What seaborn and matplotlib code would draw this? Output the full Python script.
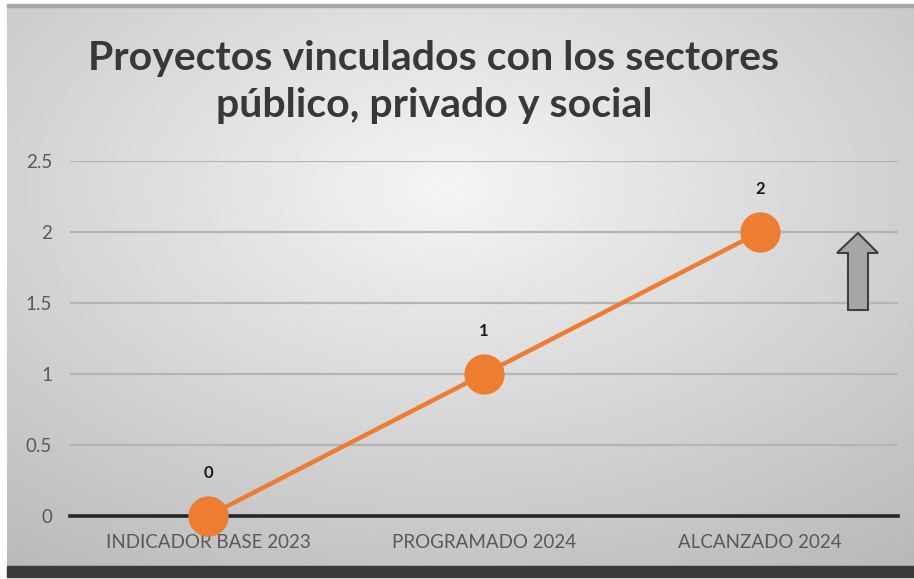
import numpy as np
import pandas as pd
import matplotlib
matplotlib.use("Agg")
import matplotlib.pyplot as plt
import seaborn as sns
from matplotlib.patches import Rectangle, Polygon

categories = ["INDICADOR BASE 2023", "PROGRAMADO 2024", "ALCANZADO 2024"]
values = [0, 1, 2]
y_ticks = [0, 0.5, 1, 1.5, 2, 2.5]
y_tick_labels = ["0", "0.5", "1", "1.5", "2", "2.5"]
title_text = "Proyectos vinculados con los sectores\npúblico, privado y social"

ORANGE = "#ED7D31"
W, H = 914, 579


def px(x, y):
    """Pixel position (from top-left) to figure fraction."""
    return x / W, 1 - y / H


def draw_background(fig):
    # radial gray gradient of the chart frame
    bg = fig.add_axes([7 / W, 13 / H, 1 - 7 / W, (566 - 6) / H], zorder=0)
    yy, xx = np.mgrid[0:280, 0:454]
    r = np.sqrt(((xx - 220) / 454) ** 2 + ((yy - 90) / 280) ** 2)
    shade = 0.96 - 0.28 * r
    bg.imshow(shade, cmap="gray", vmin=0, vmax=1, aspect="auto",
              interpolation="bicubic")
    bg.set_axis_off()
    # bottom shadow and top rule
    fig.patches.append(Rectangle(px(7, 577), 1 - 7 / W, 11 / H,
                                 transform=fig.transFigure, color="#3a3a3a",
                                 zorder=1))
    fig.patches.append(Rectangle(px(7, 7), 1 - 7 / W, 3 / H,
                                 transform=fig.transFigure, color="#a8a8a8",
                                 zorder=1))


def draw_chart(fig):
    ax = fig.add_axes([70 / W, 63 / H, 828 / W, (516 - 161) / H], zorder=2)
    ax.patch.set_alpha(0)
    df = pd.DataFrame({"categoria": categories, "valor": values})
    sns.lineplot(data=df, x="categoria", y="valor", sort=False, ax=ax,
                 color=ORANGE, linewidth=3.2, marker="o", markersize=29,
                 markeredgewidth=0, clip_on=False, zorder=5)
    ax.set_xlim(-0.5, 2.5)
    ax.set_ylim(0, 2.5)
    ax.set_yticks(y_ticks)
    ax.set_yticklabels(y_tick_labels)
    ax.grid(axis="y", color="#b4b4b4", linewidth=1.6)
    ax.grid(axis="x", visible=False)
    for side in ["top", "right", "left"]:
        ax.spines[side].set_visible(False)
    ax.spines["bottom"].set_color("#262626")
    ax.spines["bottom"].set_linewidth(2.6)
    ax.tick_params(axis="both", length=0, labelsize=13.5, colors="#595959")
    ax.tick_params(axis="y", pad=13)
    ax.tick_params(axis="x", pad=13)
    ax.set_xlabel("")
    ax.set_ylabel("")
    for i, v in enumerate(values):
        ax.annotate(str(v), (i, v), xytext=(0, 31), textcoords="offset points",
                    ha="center", va="center", fontsize=12,
                    fontweight="bold", color="#1a1a1a")
    return ax


def draw_decorations(fig):
    fig.text(434 / W, px(0, 82)[1], title_text, ha="center", va="center",
             fontsize=29.5, fontweight="bold", color="#383838",
             linespacing=1.36)
    arrow = [(848, 310), (868, 310), (868, 253), (878, 253), (858, 233),
             (837, 253), (848, 253)]
    fig.patches.append(Polygon([px(x, y) for x, y in arrow],
                               transform=fig.transFigure, closed=True,
                               facecolor="#a6a6a6", edgecolor="#404040",
                               linewidth=1.5, zorder=3))


def main():
    sns.set_theme(style="white")
    plt.rcParams["font.family"] = ["Lato", "DejaVu Sans"]
    fig = plt.figure(figsize=(W / 100, H / 100), dpi=100)
    fig.patch.set_facecolor("white")
    draw_background(fig)
    draw_chart(fig)
    draw_decorations(fig)
    fig.savefig("out.png", dpi=100)


if __name__ == "__main__":
    main()
